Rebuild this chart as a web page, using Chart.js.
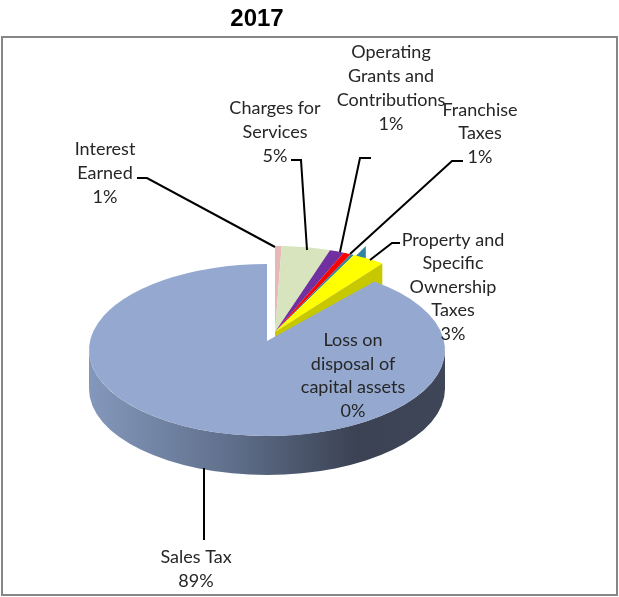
<!DOCTYPE html>
<html>
<head>
<meta charset="utf-8">
<title>2017</title>
<style>
  html, body { margin: 0; padding: 0; background: #fff; }
  canvas { display: block; }
</style>
</head>
<body>
<canvas id="chart" width="619" height="597"></canvas>
<script src="https://cdn.jsdelivr.net/npm/chart.js@4"></script>
<script>
const categories = ['Interest Earned', 'Charges for Services', 'Operating Grants and Contributions', 'Franchise Taxes', 'Loss on disposal of capital assets', 'Property and Specific Ownership Taxes', 'Sales Tax'];
const shares = [0.6, 4.4, 1.3, 0.7, 0.3, 3.0, 89.7];
const shownPercents = ['1%', '5%', '1%', '1%', '0%', '3%', '89%'];
const sliceColors = ['#e6b9b8', '#d7e4bd', '#7030a0', '#ff0000', '#31859c', '#ffff00', '#95a9d0'];
const labelLines = [
    ['Interest', 'Earned'],
    ['Charges for', 'Services'],
    ['Operating', 'Grants and', 'Contributions'],
    ['Franchise', 'Taxes'],
    ['Loss on', 'disposal of', 'capital assets'],
    ['Property and', 'Specific', 'Ownership', 'Taxes'],
    ['Sales Tax']
];

// where the labels and their leader lines sit on the page
const labelSpots = [
    { x: 105, y: 149, step: 24 },
    { x: 275, y: 108, step: 24 },
    { x: 391, y: 52, step: 24 },
    { x: 480, y: 110, step: 23.5 },
    { x: 353, y: 340, step: 23.7 },
    { x: 453, y: 240, step: 23.5 },
    { x: 196, y: 557, step: 24 }
];
const leaderPaths = [
    [[137, 178], [147, 178], [275, 247]],
    [[291, 160], [301, 160], [307, 250]],
    [[371, 158], [360, 158], [340, 252]],
    [[463, 161], [452, 161], [350, 254]],
    [],
    [[400, 243], [392, 243], [370, 260]],
    [[204, 468], [204, 540]]
];

const pieCx = 267, pieCy = 350, squash = 86 / 178, depth = 39;
const liftedCx = 275, liftedCy = 332; // the small slices are pulled out of the pie
const apexRise = 9; // perspective puts the big slice's tip above the ellipse centre
const salesIndex = 6, tealIndex = 4, yellowIndex = 5;

function placeArc(ctx, arc, cx, cy) {
    ctx.save();
    ctx.translate(cx, cy);
    ctx.scale(1, squash);
    ctx.translate(-arc.x, -arc.y);
    arc.draw(ctx);
    ctx.restore();
}

function rimPoint(arc, angle, cx, cy) {
    return [cx + arc.outerRadius * Math.cos(angle), cy + squash * arc.outerRadius * Math.sin(angle)];
}

const tiltedPie = {
    id: 'tiltedPie',
    beforeDraw(chart) {
        const ctx = chart.ctx;
        ctx.save();
        ctx.fillStyle = '#fff';
        ctx.fillRect(0, 0, chart.width, chart.height);
        ctx.strokeStyle = '#868686';
        ctx.lineWidth = 2;
        ctx.strokeRect(2, 37, 615, 558);
        ctx.restore();
    },
    beforeDatasetDraw(chart) {
        const ctx = chart.ctx;
        const arcs = chart.getDatasetMeta(0).data;
        const sales = arcs[salesIndex];
        const rx = sales.outerRadius, ry = rx * squash;

        // odd little teal wall that pokes up behind the yellow slice
        const tealRim = rimPoint(arcs[tealIndex], arcs[tealIndex].endAngle, liftedCx, liftedCy);
        ctx.fillStyle = '#31859c';
        ctx.beginPath();
        ctx.moveTo(tealRim[0], tealRim[1] + 3);
        ctx.lineTo(tealRim[0] + 12, tealRim[1] - 9);
        ctx.lineTo(tealRim[0] + 12, tealRim[1] + 5);
        ctx.closePath();
        ctx.fill();

        arcs.forEach((arc, i) => {
            if (i !== salesIndex) placeArc(ctx, arc, liftedCx, liftedCy);
        });

        // cut face of the yellow slice
        const yellowRim = rimPoint(arcs[yellowIndex], arcs[yellowIndex].endAngle, liftedCx, liftedCy);
        ctx.fillStyle = '#c8c800';
        ctx.beginPath();
        ctx.moveTo(liftedCx, liftedCy);
        ctx.lineTo(yellowRim[0], yellowRim[1]);
        ctx.lineTo(yellowRim[0], yellowRim[1] + depth);
        ctx.lineTo(liftedCx, liftedCy + depth);
        ctx.closePath();
        ctx.fill();

        // outer wall of the big slice
        const wall = ctx.createLinearGradient(pieCx - rx, 0, pieCx + rx, 0);
        wall.addColorStop(0, '#8498bc');
        wall.addColorStop(0.4, '#5f6f8b');
        wall.addColorStop(0.75, '#3b4253');
        wall.addColorStop(1, '#3e4658');
        ctx.fillStyle = wall;
        ctx.beginPath();
        ctx.ellipse(pieCx, pieCy, rx, ry, 0, 0, Math.PI);
        ctx.ellipse(pieCx, pieCy + depth, rx, ry, 0, Math.PI, 0, true);
        ctx.closePath();
        ctx.fill();

        placeArc(ctx, sales, pieCx, pieCy);

        // lift the tip of the big slice
        const salesRim = rimPoint(sales, sales.startAngle, pieCx, pieCy);
        ctx.fillStyle = sliceColors[salesIndex];
        ctx.beginPath();
        ctx.moveTo(pieCx, pieCy + 1);
        ctx.lineTo(pieCx, pieCy - apexRise);
        ctx.lineTo(salesRim[0], salesRim[1]);
        ctx.closePath();
        ctx.fill();
        return false;
    },
    afterDraw(chart) {
        const ctx = chart.ctx;
        ctx.save();
        ctx.strokeStyle = '#000';
        ctx.lineWidth = 2;
        leaderPaths.forEach(path => {
            if (!path.length) return;
            ctx.beginPath();
            path.forEach((p, i) => (i ? ctx.lineTo(p[0], p[1]) : ctx.moveTo(p[0], p[1])));
            ctx.stroke();
        });
        ctx.fillStyle = '#262626';
        ctx.font = '18px Lato';
        ctx.textAlign = 'center';
        ctx.textBaseline = 'middle';
        labelLines.forEach((lines, i) => {
            const spot = labelSpots[i];
            lines.concat(shownPercents[i]).forEach((line, n) => {
                ctx.fillText(line, spot.x, spot.y + n * spot.step);
            });
        });
        ctx.restore();
    }
};

new Chart(document.getElementById('chart'), {
    type: 'pie',
    data: {
        labels: categories,
        datasets: [{
            data: shares,
            backgroundColor: sliceColors,
            borderWidth: 0
        }]
    },
    options: {
        responsive: false,
        animation: false,
        layout: { padding: { left: 79, right: 184, top: 0, bottom: 20 } },
        plugins: {
            legend: { display: false },
            tooltip: { enabled: false },
            title: {
                display: true,
                text: '2017',
                fullSize: false,
                color: '#000',
                font: { family: 'Liberation Sans', size: 24, weight: 'bold' },
                padding: { top: 5, bottom: 9 }
            }
        }
    },
    plugins: [tiltedPie]
});
</script>
</body>
</html>
